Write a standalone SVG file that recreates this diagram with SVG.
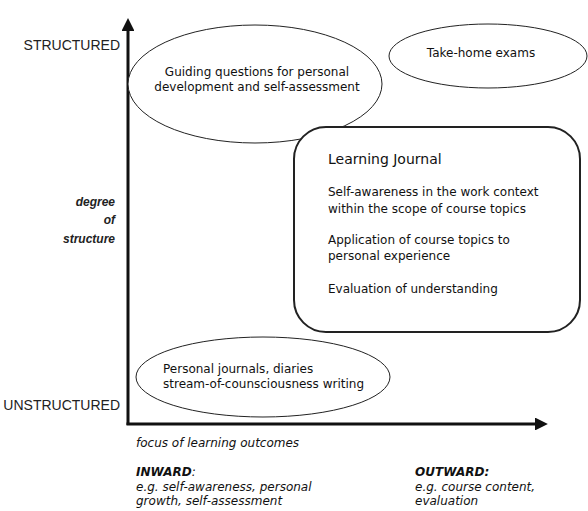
<svg xmlns="http://www.w3.org/2000/svg" width="588" height="511" viewBox="0 0 588 511">
<style>
.node{fill:#fff;stroke:#222;stroke-width:1}
.box{fill:#fff;stroke:#222;stroke-width:2}
.t{font-family:"DejaVu Sans",Verdana,sans-serif;font-size:12px;fill:#111}
.title{font-family:"DejaVu Sans",Verdana,sans-serif;font-size:14px;fill:#111}
.ax{font-family:"Liberation Sans",Arial,sans-serif;font-size:14px;fill:#222}
.axi{font-family:"Liberation Sans",Arial,sans-serif;font-size:12px;font-weight:bold;font-style:italic;fill:#222}
.it{font-family:"DejaVu Sans",Verdana,sans-serif;font-size:12px;font-style:italic;fill:#111}
.bi{font-weight:bold}
.axis{stroke:#111;stroke-width:3;fill:none}
</style>
<defs>
<marker id="ah" viewBox="0 0 10 10" refX="0" refY="5" markerWidth="4.3" markerHeight="4.3" orient="auto" markerUnits="strokeWidth">
<path d="M0,0 L10,5 L0,10 z" fill="#111"/>
</marker>
</defs>
<g id="connectors">
<line class="axis" x1="128" y1="425" x2="128" y2="31" marker-end="url(#ah)"/>
<line class="axis" x1="126.5" y1="424" x2="535" y2="424" marker-end="url(#ah)"/>
</g>
<g id="axis-labels">
<text class="ax" x="120" y="50" text-anchor="end">STRUCTURED</text>
<text class="ax" x="120" y="410" text-anchor="end">UNSTRUCTURED</text>
<text class="axi" x="115" y="206" text-anchor="end">degree</text>
<text class="axi" x="115" y="224" text-anchor="end">of</text>
<text class="axi" x="115" y="243" text-anchor="end">structure</text>
<text class="it" x="136" y="447">focus of learning outcomes</text>
<text class="it" x="136" y="476"><tspan class="bi">INWARD</tspan>:</text>
<text class="it" x="136" y="491">e.g. self-awareness, personal</text>
<text class="it" x="136" y="505">growth, self-assessment</text>
<text class="it" x="415" y="476"><tspan class="bi">OUTWARD:</tspan></text>
<text class="it" x="415" y="491">e.g. course content,</text>
<text class="it" x="415" y="505">evaluation</text>
</g>
<g id="guiding">
<ellipse class="node" cx="255" cy="84" rx="127" ry="59"/>
<text class="t" x="257" y="76" text-anchor="middle">Guiding questions for personal</text>
<text class="t" x="257" y="91" text-anchor="middle">development and self-assessment</text>
</g>
<g id="takehome">
<ellipse class="node" cx="488" cy="56" rx="99" ry="32"/>
<text class="t" x="481" y="57" text-anchor="middle">Take-home exams</text>
</g>
<g id="journal">
<rect class="box" x="294" y="127" width="286" height="205" rx="32" ry="32"/>
<text class="title" x="328" y="164">Learning Journal</text>
<text class="t" x="328" y="196">Self-awareness in the work context</text>
<text class="t" x="328" y="213">within the scope of course topics</text>
<text class="t" x="328" y="244">Application of course topics to</text>
<text class="t" x="328" y="260">personal experience</text>
<text class="t" x="328" y="293">Evaluation of understanding</text>
</g>
<g id="personal">
<ellipse class="node" cx="263" cy="377" rx="127" ry="40"/>
<text class="t" x="163" y="373">Personal journals, diaries</text>
<text class="t" x="163" y="388">stream-of-counsciousness writing</text>
</g>
</svg>
